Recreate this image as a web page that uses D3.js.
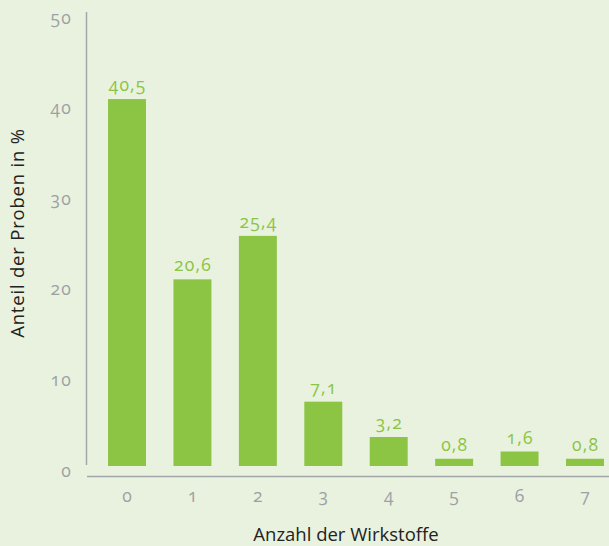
<!DOCTYPE html>
<html>
<head>
<meta charset="utf-8">
<script src="https://cdn.jsdelivr.net/npm/d3@7"></script>
<style>
  html, body { margin: 0; padding: 0; background: #e9f2df; }
  svg { display: block; font-family: "Open Sans", sans-serif; }
  .num { font-variant-numeric: oldstyle-nums; font-feature-settings: "onum" 1; font-weight: 400; letter-spacing: 1.2px; }
</style>
</head>
<body>
<svg id="chart" width="609" height="546"></svg>
<script>
const categories = ["0", "1", "2", "3", "4", "5", "6", "7"];
const values = [40.5, 20.6, 25.4, 7.1, 3.2, 0.8, 1.6, 0.8];
const valueLabels = ["40,5", "20,6", "25,4", "7,1", "3,2", "0,8", "1,6", "0,8"];
const yTicks = [0, 10, 20, 30, 40, 50];
const xTitle = "Anzahl der Wirkstoffe";
const yTitle = "Anteil der Proben in %";

const W = 609, H = 546;
const svg = d3.select("#chart");
svg.append("rect").attr("width", W).attr("height", H).attr("fill", "#e9f2df");

const x = d3.scaleBand().domain(categories).range([94.3, 617.7]).paddingInner(0.42).paddingOuter(0.21);
const y = d3.scaleLinear().domain([0, 50]).range([466, 13]);

const green = "#8cc443";
const grey = "#9da1a5";

// axis lines
svg.append("line").attr("x1", 86.5).attr("x2", 86.5).attr("y1", 12).attr("y2", 465)
  .attr("stroke", "#a3a7aa").attr("stroke-width", 1.5);
svg.append("line").attr("x1", 87).attr("x2", W).attr("y1", 476.5).attr("y2", 476.5)
  .attr("stroke", "#a3a7aa").attr("stroke-width", 1.5);

// y tick labels
svg.append("g").selectAll("text").data(yTicks).join("text")
  .attr("class", "num")
  .attr("x", 72).attr("y", d => y(d) + 10.5)
  .attr("text-anchor", "end").attr("font-size", 17.5).attr("fill", grey)
  .text(d => d);

// x tick labels
svg.append("g").selectAll("text").data(categories).join("text")
  .attr("class", "num")
  .attr("x", d => x(d) + x.bandwidth() / 2 + 0.6).attr("y", 502)
  .attr("text-anchor", "middle").attr("font-size", 17.5).attr("fill", grey)
  .text(d => d);

// bars
svg.append("g").selectAll("rect").data(values).join("rect")
  .attr("x", (d, i) => x(categories[i]))
  .attr("width", x.bandwidth())
  .attr("y", d => y(d))
  .attr("height", d => y(0) - y(d))
  .attr("fill", green);

// value labels
svg.append("g").selectAll("text").data(values).join("text")
  .attr("class", "num")
  .attr("x", (d, i) => x(categories[i]) + x.bandwidth() / 2 + 0.6)
  .attr("y", d => y(d) - 8)
  .attr("text-anchor", "middle").attr("font-size", 17.5).attr("fill", green)
  .text((d, i) => valueLabels[i]);

// axis titles
svg.append("text").attr("x", 346).attr("y", 541).attr("text-anchor", "middle")
  .attr("font-size", 18.5).attr("fill", "#222").text(xTitle);
svg.append("text").attr("transform", "translate(24,233) rotate(-90)").attr("text-anchor", "middle")
  .attr("font-size", 18.5).attr("letter-spacing", 0.8).attr("fill", "#222").text(yTitle);
</script>
</body>
</html>
